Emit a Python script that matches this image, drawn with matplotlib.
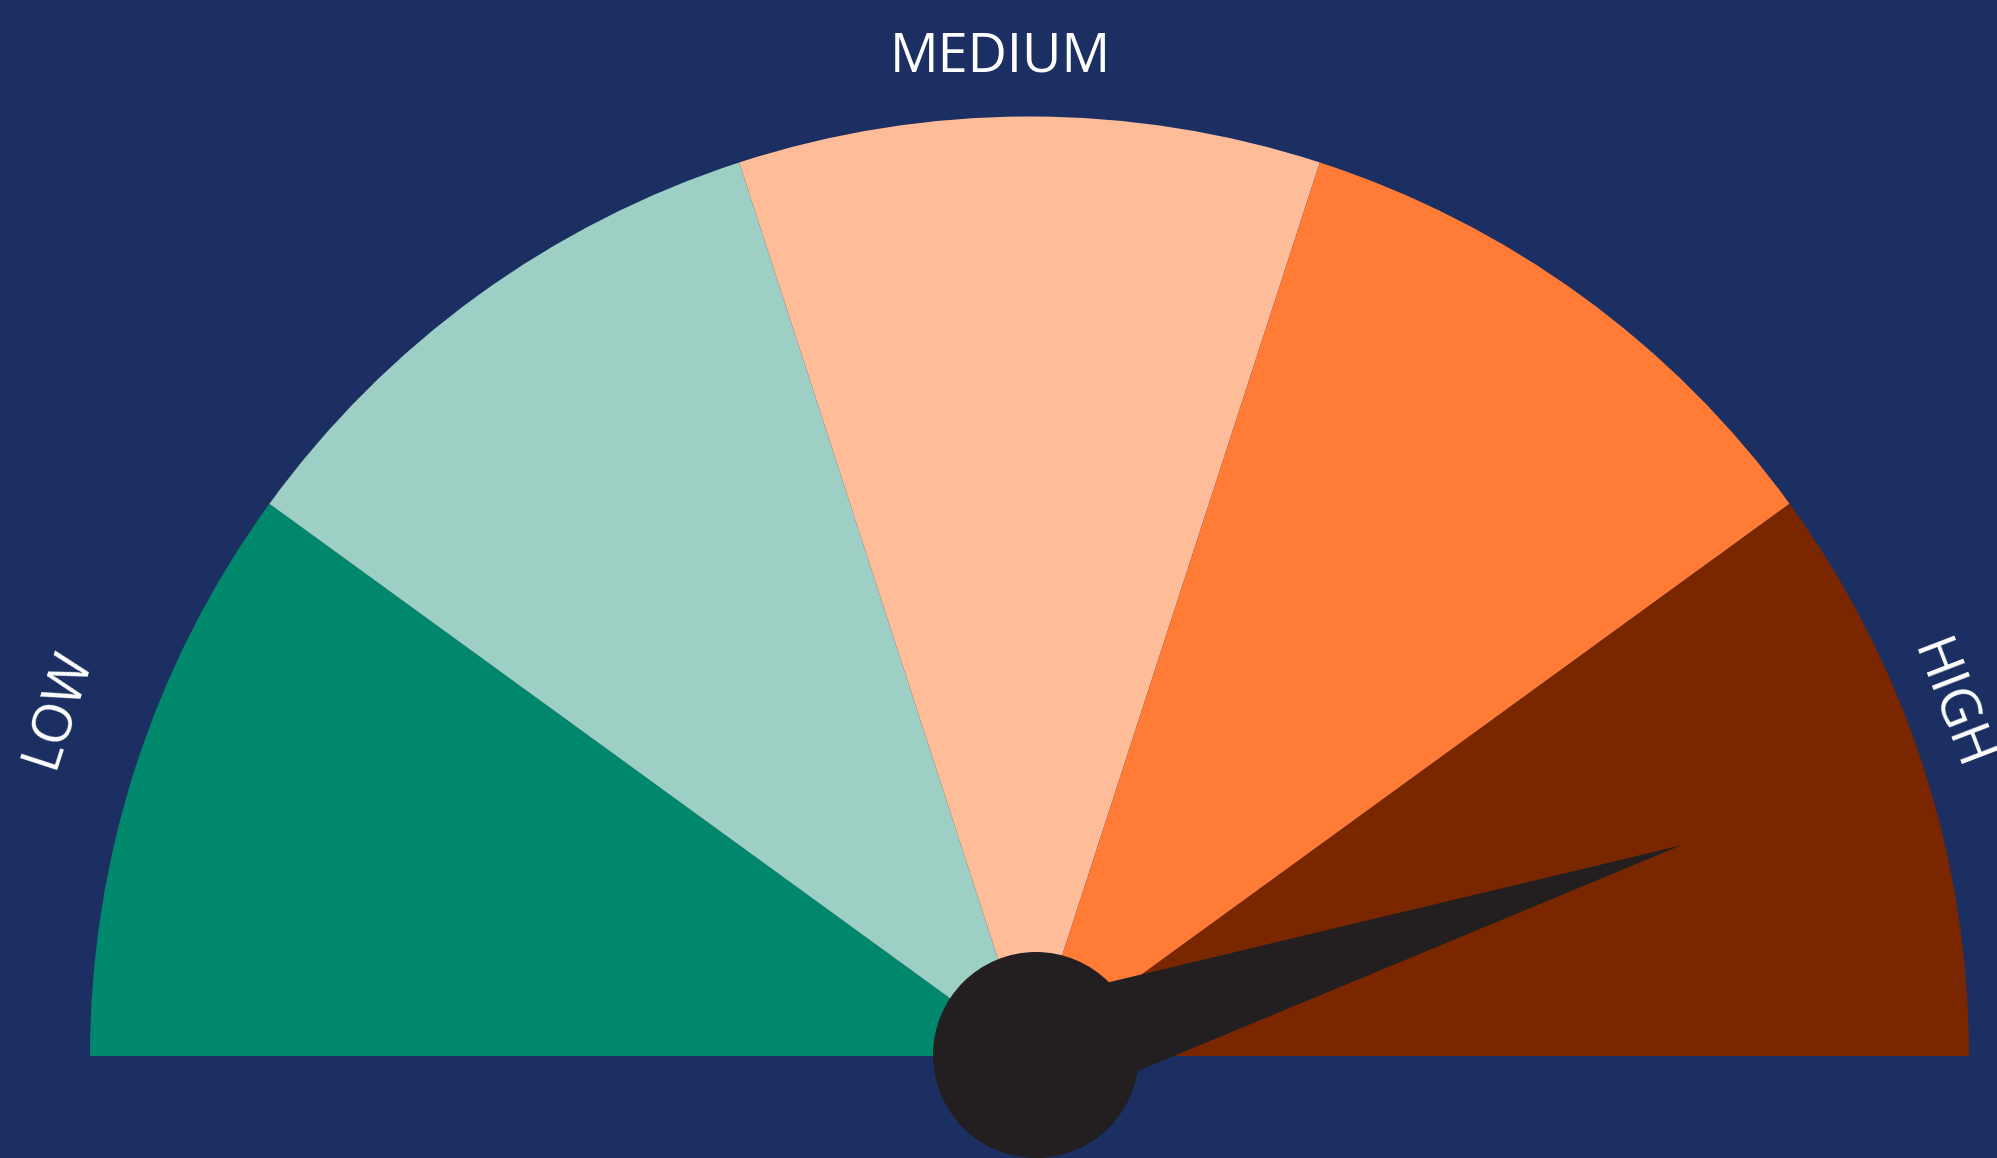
import numpy as np
import matplotlib
matplotlib.use("Agg")
import matplotlib.pyplot as plt
from matplotlib.patches import Wedge, Circle, Polygon

# ---- data ----
band_colors = ["#00886c", "#9dcfc4", "#ffbc99", "#ff7b36", "#7a2700"]
band_count = len(band_colors)
range_min, range_max = 0, 100
value = 90
labels = ["LOW", "MEDIUM", "HIGH"]

W, H = 1997, 1158
DPI = 100
bg = "#1b2f63"
needle_color = "#231f20"

fig = plt.figure(figsize=(W / DPI, H / DPI), dpi=DPI, facecolor=bg)
ax = fig.add_axes([0, 0, 1, 1])
ax.set_facecolor(bg)
ax.set_xlim(0, W)
ax.set_ylim(0, H)
ax.set_aspect("equal")
ax.axis("off")

cx, cy = 1029.5, H - 1056
R = 939.5

step = 180.0 / band_count
for i, c in enumerate(band_colors):
    t2 = 180 - i * step
    t1 = t2 - step
    ax.add_patch(Wedge((cx, cy), R, t1, t2, facecolor=c, edgecolor="none",
                       antialiased=True))

# needle
px, py = 1036, H - 1055
ang = np.radians(180 - (value - range_min) / (range_max - range_min) * 180)
L = 678
hw = 54
tip = (px + L * np.cos(ang), py + L * np.sin(ang))
perp = np.array([-np.sin(ang), np.cos(ang)])
b1 = np.array([px, py]) + hw * perp
b2 = np.array([px, py]) - hw * perp
ax.add_patch(Polygon([b1, tip, b2], closed=True, facecolor=needle_color, edgecolor="none"))
ax.add_patch(Circle((px, py), 103, facecolor=needle_color, edgecolor="none"))

font = "Open Sans"
fs = 39
ax.text(52, H - 706, labels[0], rotation=72, ha="center", va="center_baseline",
        color="white", fontsize=fs, family=font, rotation_mode="anchor")
ax.text(1000, H - 72, labels[1], rotation=0, ha="center", va="baseline",
        color="white", fontsize=fs, family=font)
ax.text(1955, H - 704, labels[2], rotation=-69, ha="center", va="center_baseline",
        color="white", fontsize=fs, family=font, rotation_mode="anchor")

fig.savefig("out.png", dpi=DPI, facecolor=bg)
